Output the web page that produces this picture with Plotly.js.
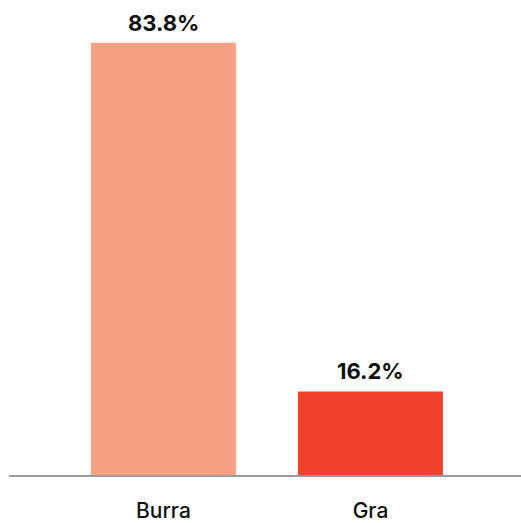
<!DOCTYPE html>
<html>
<head>
<meta charset="utf-8">
<script src="https://cdn.plot.ly/plotly-3.0.1.min.js"></script>
<style>html,body{margin:0;padding:0;background:#fff;}#chart{width:521px;height:523px;}</style>
</head>
<body>
<div id="chart"></div>
<script>
const categories = ["Burra", "Gra"];
const values = [83.8, 16.2];
const labels = ["83.8%", "16.2%"];
const colors = ["#F7A183", "#EF412B"];

const annotations = categories.map((c, i) => ({
  x: c, y: values[i], xref: "x", yref: "y",
  text: labels[i], showarrow: false,
  yanchor: "bottom", yshift: 5,
  font: {family: "Inter, 'Open Sans', sans-serif", size: 22, color: "#111", weight: 700}
}));

Plotly.newPlot("chart", [{
  type: "bar",
  x: categories,
  y: values,
  marker: {color: colors},
  width: 0.7,
  hoverinfo: "none"
}], {
  width: 521, height: 523,
  margin: {l: 9, r: 0, t: 0, b: 48},
  paper_bgcolor: "#fff", plot_bgcolor: "#fff",
  showlegend: false,
  annotations: annotations,
  xaxis: {
    range: [-0.746, 1.727],
    showline: true, linecolor: "#9a9a9a", linewidth: 2,
    showgrid: false, zeroline: false, ticks: "",
    tickfont: {family: "Inter, 'Open Sans', sans-serif", size: 21, color: "#111", weight: 500},
    ticklabelstandoff: 16
  },
  yaxis: {
    range: [0, 92.1], visible: false, showgrid: false, zeroline: false
  }
}, {displayModeBar: false, staticPlot: true});
</script>
</body>
</html>
